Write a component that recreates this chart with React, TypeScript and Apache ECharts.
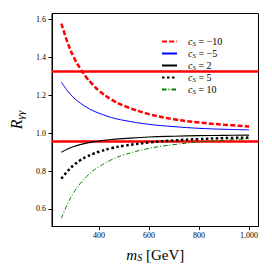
import React, { useEffect, useRef } from "react";
import * as echarts from "echarts";

const mS = [250, 275, 300, 325, 350, 375, 400, 450, 500, 600, 700, 800, 900, 1000];
const rM10 = [1.58, 1.479, 1.40, 1.343, 1.295, 1.258, 1.225, 1.178, 1.145, 1.101, 1.074, 1.057, 1.045, 1.036];
const rM5 = [1.27, 1.223, 1.187, 1.160, 1.138, 1.120, 1.106, 1.083, 1.068, 1.047, 1.035, 1.026, 1.021, 1.018];
const r2 = [0.90, 0.917, 0.930, 0.940, 0.948, 0.954, 0.959, 0.967, 0.972, 0.980, 0.984, 0.987, 0.989, 0.990];
const r5 = [0.76, 0.800, 0.832, 0.857, 0.875, 0.890, 0.902, 0.921, 0.934, 0.951, 0.962, 0.969, 0.974, 0.977];
const r10 = [0.55, 0.628, 0.688, 0.734, 0.770, 0.800, 0.823, 0.860, 0.886, 0.920, 0.940, 0.954, 0.963, 0.970];
const bandLines = [1.33, 0.96];
const xTicks = [400, 600, 800, 1000];
const yTicks = [0.6, 0.8, 1.0, 1.2, 1.4, 1.6];
const legendNames = ["−10", "−5", "2", "5", "10"];

const SERIF = "'Liberation Serif', 'DejaVu Serif', serif";

export default function App() {
  const ref = useRef<HTMLDivElement>(null);
  useEffect(() => {
    if (!ref.current) return;
    const chart = echarts.init(ref.current, undefined, { renderer: "svg" });
    const mk = (vals: number[]) => mS.map((m, i) => [m, vals[i]]);
    const seriesDefs = [
      { vals: rM10, color: "#ff0000", width: 2.5, type: [5, 2.2] as any },
      { vals: rM5, color: "#0000ff", width: 1, type: "solid" as any },
      { vals: r2, color: "#000000", width: 1.2, type: "solid" as any },
      { vals: r5, color: "#000000", width: 2.5, type: [2.5, 2.5] as any },
      { vals: r10, color: "#008000", width: 1, type: [4.5, 2, 1, 2] as any },
    ];
    const series: any[] = seriesDefs.map((d, i) => ({
      name: legendNames[i],
      type: "line",
      data: mk(d.vals),
      smooth: 0.4,
      symbol: "none",
      showSymbol: false,
      lineStyle: { color: d.color, width: d.width, type: d.type },
      itemStyle: { color: d.color },
      z: 3,
    }));
    series[0].markLine = {
      silent: true,
      symbol: ["none", "none"],
      label: { show: false },
      lineStyle: { color: "#ff0000", width: 2.5, type: "solid" },
      data: bandLines.map((v) => ({ yAxis: v })),
      z: 2,
    };
    chart.setOption({
      animation: false,
      backgroundColor: "#ffffff",
      grid: {
        left: 47,
        right: 13.5,
        top: 13.5,
        bottom: 45.5,
        show: true,
        borderColor: "#000",
        borderWidth: 1,
        backgroundColor: "transparent",
      },
      legend: {
        orient: "vertical",
        left: 156,
        top: 31,
        itemWidth: 15,
        itemHeight: 8,
        itemGap: 1,
        itemStyle: { opacity: 0, borderWidth: 0 },
        lineStyle: { opacity: 1 },
        formatter: (n: string) => `{c|c}{s|S}{t| = ${n}}`,
        textStyle: {
          fontFamily: SERIF,
          fontSize: 10,
          color: "#000",
          padding: [0, 0, 0, 6],
          rich: {
            c: { fontFamily: SERIF, fontStyle: "italic", fontSize: 10, lineHeight: 12, color: "#000" },
            s: { fontFamily: SERIF, fontStyle: "italic", fontSize: 7, lineHeight: 12, color: "#000", padding: [4, 0, 0, 0] },
            t: { fontFamily: SERIF, fontSize: 10, lineHeight: 12, color: "#000" },
          },
        },
      },
      xAxis: {
        type: "value",
        min: 212.5,
        max: 1037.5,
        name: "{m|m}{s|S}{g| [GeV]}",
        nameLocation: "middle",
        nameGap: 20,
        nameTextStyle: {
          rich: {
            m: { fontFamily: SERIF, fontStyle: "italic", fontSize: 15, color: "#000" },
            s: { fontFamily: SERIF, fontStyle: "italic", fontSize: 10, color: "#000", padding: [6, 0, 0, 0] },
            g: { fontFamily: SERIF, fontSize: 15, color: "#000" },
          },
        },
        axisLine: { show: true, lineStyle: { color: "#000", width: 1 } },
        axisTick: { show: true, inside: false, length: 3.5, customValues: xTicks, lineStyle: { color: "#000" } },
        axisLabel: { customValues: xTicks, fontFamily: SERIF, fontSize: 8, color: "#000", margin: 5 },
        splitLine: { show: false },
      },
      yAxis: {
        type: "value",
        min: 0.507,
        max: 1.633,
        name: "{r|R}{s|γγ}",
        nameLocation: "middle",
        nameRotate: 90,
        nameGap: 27,
        nameTextStyle: {
          rich: {
            r: { fontFamily: SERIF, fontStyle: "italic", fontSize: 16, color: "#000" },
            s: { fontFamily: SERIF, fontStyle: "italic", fontSize: 11, color: "#000", padding: [7, 0, 0, 0] },
          },
        },
        axisLine: { show: true, lineStyle: { color: "#000", width: 1 } },
        axisTick: { show: true, inside: false, length: 3.5, customValues: yTicks, lineStyle: { color: "#000" } },
        axisLabel: {
          customValues: yTicks,
          fontFamily: SERIF,
          fontSize: 8,
          color: "#000",
          margin: 6,
          formatter: (v: number) => v.toFixed(1),
        },
        splitLine: { show: false },
      },
      series,
    });
    return () => chart.dispose();
  }, []);
  return <div ref={ref} style={{ width: 272, height: 272, position: "absolute", left: 0, top: 0 }} />;
}
